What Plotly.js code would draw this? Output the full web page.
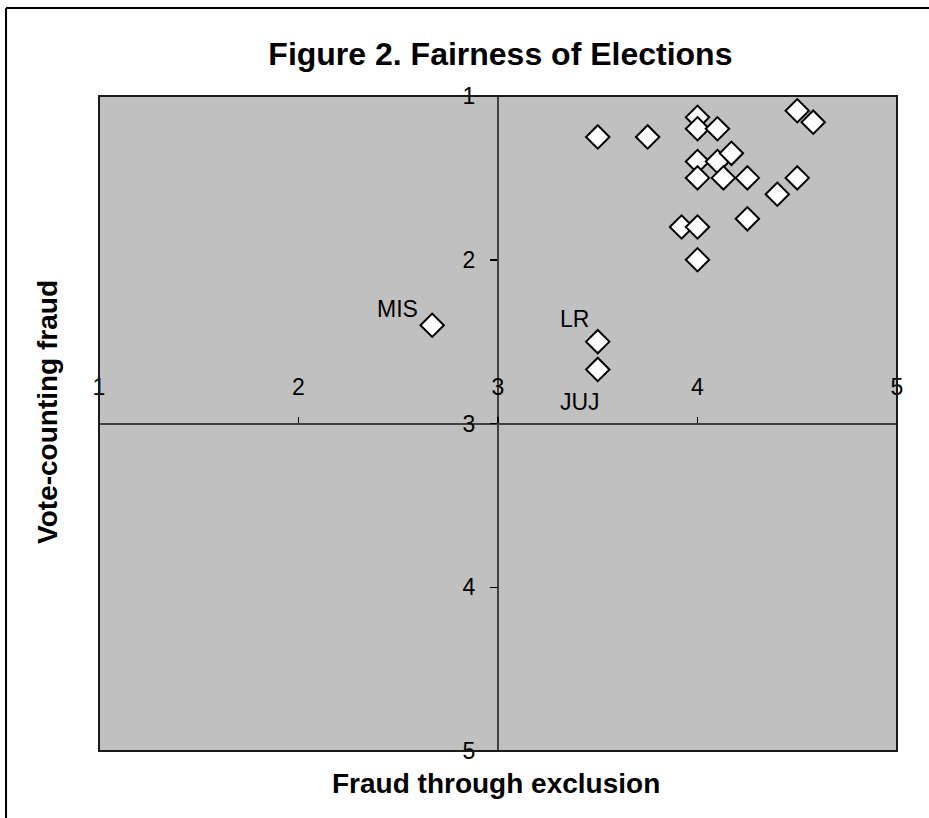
<!DOCTYPE html>
<html>
<head>
<meta charset="utf-8">
<script src="https://cdn.plot.ly/plotly-3.0.1.min.js"></script>
<style>html,body{margin:0;padding:0;background:#fff;}#chart{width:929px;height:818px;}</style>
</head>
<body>
<div id="chart"></div>
<script>
// Data
const exclusionScores = [3.5, 3.75, 4, 4, 4.1, 4.5, 4.58, 4, 4.1, 4.17, 4, 4.13, 4.25, 4.5, 4.4, 4.25, 3.92, 4, 4, 2.67, 3.5, 3.5];
const countingScores  = [1.25, 1.25, 1.13, 1.2, 1.2, 1.09, 1.16, 1.4, 1.4, 1.35, 1.5, 1.5, 1.5, 1.5, 1.6, 1.75, 1.8, 1.8, 2.0, 2.4, 2.5, 2.67];
const labelNames = ['MIS', 'LR', 'JUJ'];
const labelX = [2.67, 3.5, 3.5];
const labelY = [2.4, 2.5, 2.67];
const tickValues = [1, 2, 3, 4, 5];
const tickLabels = ['1', '2', '3', '4', '5'];

const FONT = 'Arial, "Liberation Sans", sans-serif';
const labelShifts = [[-35, 16], [-23, 23], [-18, -33]];

const trace = {
  type: 'scatter',
  mode: 'markers',
  x: exclusionScores,
  y: countingScores,
  xaxis: 'x', yaxis: 'y',
  marker: {symbol: 'diamond', size: 18, color: '#ffffff', line: {color: '#000000', width: 2}},
  hoverinfo: 'x+y'
};
// empty helper trace so the label-only x axis is drawn
const labelAxisTrace = {type: 'scatter', mode: 'markers', x: [], y: [], xaxis: 'x2', yaxis: 'y', hoverinfo: 'skip', showlegend: false};

const annotations = labelNames.map((t, i) => ({
  x: labelX[i], y: labelY[i], xref: 'x', yref: 'y', text: t, showarrow: false,
  xanchor: 'center', yanchor: 'middle', xshift: labelShifts[i][0], yshift: labelShifts[i][1],
  font: {family: FONT, size: 23, color: '#000'}
}));
annotations.push({
  xref: 'paper', yref: 'paper', x: 0.4975, y: -0.049, text: '<b>Fraud through exclusion</b>',
  showarrow: false, xanchor: 'center', yanchor: 'middle', font: {family: FONT, size: 28, color: '#000'}
});
annotations.push({
  xref: 'paper', yref: 'paper', x: -0.064, y: 0.5176, text: '<b>Vote-counting fraud</b>', textangle: -90,
  showarrow: false, xanchor: 'center', yanchor: 'middle', font: {family: FONT, size: 28, color: '#000'}
});

const layout = {
  width: 929, height: 818,
  margin: {l: 99, r: 32, t: 96, b: 67, pad: 0},
  paper_bgcolor: '#ffffff',
  plot_bgcolor: '#c0c0c0',
  showlegend: false,
  title: {text: '<b>Figure 2. Fairness of Elections</b>', font: {family: FONT, size: 32, color: '#000'},
          xref: 'paper', x: 0.503, xanchor: 'center', yref: 'container', y: 0.934, yanchor: 'middle'},
  xaxis: {
    range: [1, 5], anchor: 'free', position: 0.5, showgrid: false, zeroline: false,
    showline: true, linecolor: '#404040', linewidth: 2,
    tickmode: 'array', tickvals: tickValues,
    ticks: 'inside', ticklen: 6, tickcolor: '#000', tickwidth: 1.5,
    showticklabels: false, fixedrange: true
  },
  xaxis2: {
    range: [1, 5], overlaying: 'x', anchor: 'free', position: 0.58, side: 'bottom',
    showgrid: false, zeroline: false, showline: false, ticks: '',
    tickmode: 'array', tickvals: tickValues, ticktext: tickLabels,
    tickfont: {family: FONT, size: 23, color: '#000'}, fixedrange: true
  },
  yaxis: {
    range: [5, 1], anchor: 'free', position: 0.5, showgrid: false, zeroline: false,
    showline: true, linecolor: '#404040', linewidth: 2,
    tickmode: 'array', tickvals: tickValues, ticktext: tickLabels,
    ticks: 'outside', ticklen: 7, tickcolor: '#000', tickwidth: 1.5,
    ticklabelstandoff: 10,
    tickfont: {family: FONT, size: 23, color: '#000'}, fixedrange: true
  },
  shapes: [
    {type: 'rect', xref: 'paper', yref: 'paper', x0: 0, x1: 1, y0: 0, y1: 1,
     line: {color: '#1a1a1a', width: 2}, fillcolor: 'rgba(0,0,0,0)', layer: 'above'},
    {type: 'line', xref: 'paper', yref: 'paper', x0: -0.1165, x1: 1.2, y0: 1.1344, y1: 1.1344,
     line: {color: '#000', width: 2}},
    {type: 'line', xref: 'paper', yref: 'paper', x0: -0.1165, x1: -0.1165, y0: 1.1344, y1: -0.2,
     line: {color: '#000', width: 2}}
  ],
  annotations: annotations
};

Plotly.newPlot('chart', [trace, labelAxisTrace], layout, {displayModeBar: false, staticPlot: true});
</script>
</body>
</html>
